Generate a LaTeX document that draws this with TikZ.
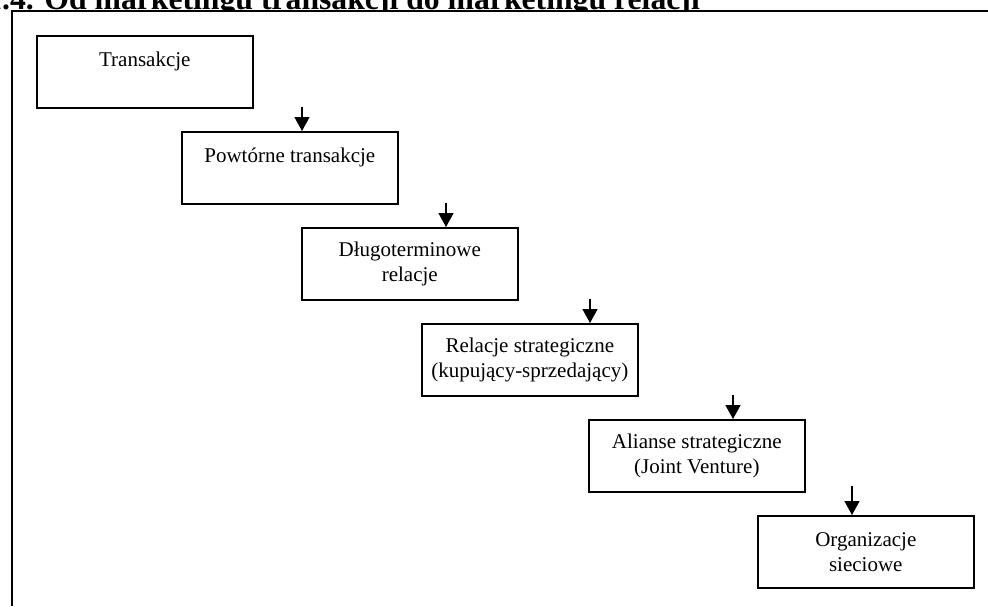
\documentclass[tikz,border=0pt]{standalone}
\usepackage{fontspec}
\setmainfont{Liberation Serif}
\usetikzlibrary{arrows.meta}
\tikzset{
  stage/.style={draw=black, line width=1.6pt, anchor=north west, minimum width=216pt,
    minimum height=72pt, align=center, inner sep=0pt, font=\fontsize{21}{25}\selectfont},
  flow/.style={-{Triangle[width=15pt,length=14pt]}, line width=1.6pt},
  frame/.style={line width=2pt}
}
\begin{document}
\begin{tikzpicture}[x=1pt,y=-1pt]
            \useasboundingbox (0,0) rectangle (988,606);
            \node[anchor=base east, inner sep=0pt, font=\fontsize{31.7}{38}\selectfont\bfseries] (title) at (700,9) {1.4. Od marketingu transakcji do marketingu relacji};

            % ramka rysunku
            \coordinate (fl) at (11.5,606);
            \coordinate (ft) at (11.5,10.5);
            \coordinate (fr) at (988,10.5);
            \fill[white] (ft) rectangle (988,606);
            \draw[frame] (fl) -- (ft) -- (fr);

            \node[stage] (A) at (36,35)   {Transakcje\\\mbox{}};
            \node[stage] (B) at (181,131) {Powtórne transakcje\\\mbox{}};
            \node[stage] (C) at (301,227) {Długoterminowe\\relacje};
            \node[stage] (D) at (421,323) {Relacje strategiczne\\(kupujący-sprzedający)};
            \node[stage] (E) at (588,419) {Alianse strategiczne\\(Joint Venture)};
            \node[stage] (F) at (757,515) {Organizacje\\sieciowe};

            \coordinate (a1) at (302,107);
            \coordinate (a2) at (446,203);
            \coordinate (a3) at (590,299);
            \coordinate (a4) at (733,395);
            \coordinate (a5) at (852,486);

            \draw[flow] (a1) -- (a1 |- B.north);
            \draw[flow] (a2) -- (a2 |- C.north);
            \draw[flow] (a3) -- (a3 |- D.north);
            \draw[flow] (a4) -- (a4 |- E.north);
            \draw[flow] (a5) -- (a5 |- F.north);
\end{tikzpicture}
\end{document}
